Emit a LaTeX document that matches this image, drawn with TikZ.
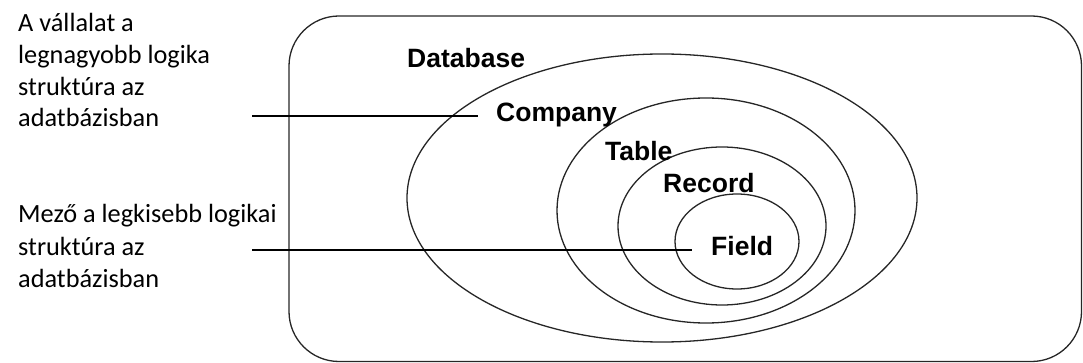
\documentclass[tikz,border=0pt]{standalone}
\usepackage{fontspec}
\setmainfont{Carlito}
\newfontfamily\labelfont{Liberation Sans}
\usetikzlibrary{positioning}

\begin{document}
\begin{tikzpicture}[x=1pt,y=-1pt,
  note/.style={anchor=base west,inner sep=0pt,font=\fontsize{26.3}{32}\selectfont},
  level/.style={anchor=base west,inner sep=0pt,font=\labelfont\bfseries\fontsize{26.5}{31}\selectfont},
  ring/.style={line width=1.3pt,black!85}]
\useasboundingbox (0,0) rectangle (1083,363);
\draw[ring,rounded corners=50pt] (289,16) rectangle (1081.5,361.5);
\draw[ring] (662,198) ellipse [x radius=255pt, y radius=144pt];
\draw[ring] (706,210.5) ellipse [x radius=149pt, y radius=112.5pt];
\draw[ring] (722,226) ellipse [x radius=104pt, y radius=79pt];
\draw[ring] (737,241.5) ellipse [x radius=62pt, y radius=47.5pt];
\node[level] (database) at (407,68) {Database};
\node[level] (company) at (496,122) {Company};
\node[level] (table) at (605,161) {Table};
\node[level] (record) at (663,193) {Record};
\node[level] (field) at (711,255) {Field};
\node[note] (topA) at (18,31.7) {A vállalat a};
\node[note] (topB) at (18,63.5) {legnagyobb logika};
\node[note] (topC) at (18,95.3) {struktúra az};
\node[note] (topD) at (18,127) {adatbázisban};
\node[note] (lowA) at (18,223) {Mező a legkisebb logikai};
\node[note] (lowB) at (18,255) {struktúra az};
\node[note] (lowC) at (18,287) {adatbázisban};
\coordinate (biggest) at (252,116);
\coordinate (smallest) at (252,250);
\draw[line width=1.6pt,shorten >=18pt] (biggest) -- (biggest -| company.west);
\draw[line width=1.6pt,shorten >=19pt] (smallest) -- (smallest -| field.west);
\end{tikzpicture}
\end{document}
